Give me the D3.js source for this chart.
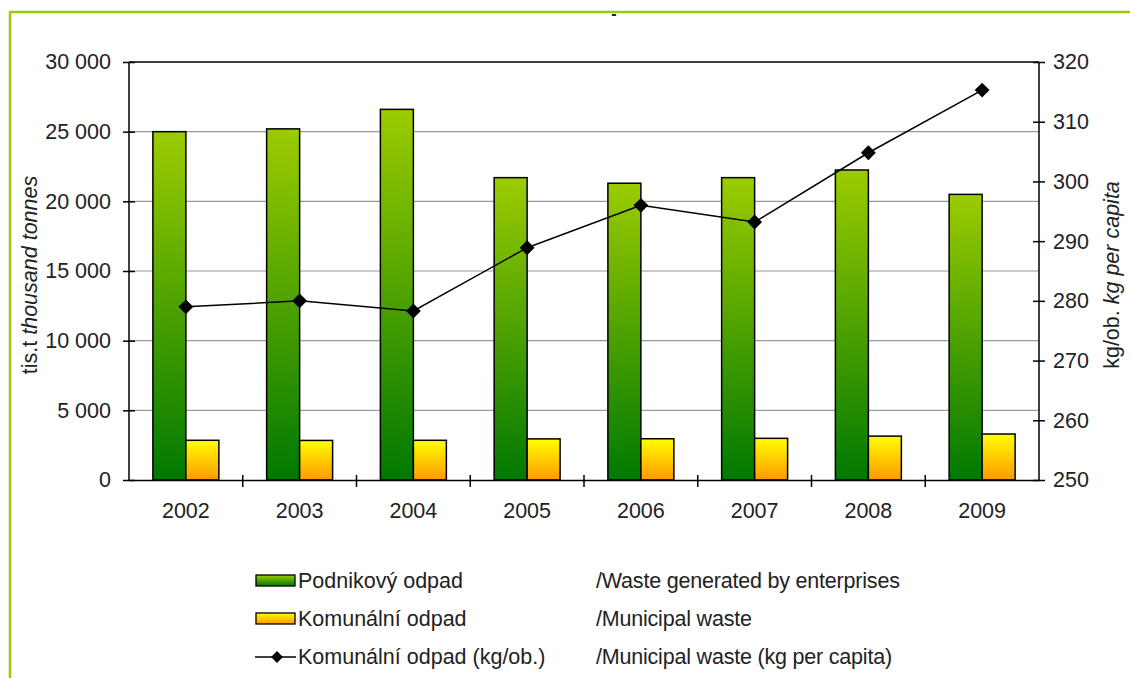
<!DOCTYPE html>
<html>
<head>
<meta charset="utf-8">
<script src="https://cdn.jsdelivr.net/npm/d3@7"></script>
<style>
  body { margin: 0; background: #fff; }
  svg { display: block; font-family: "Liberation Sans", Arial, sans-serif; }
</style>
</head>
<body>
<svg class="canvas" width="1130" height="678"></svg>
<script>
// chart data
const years = ["2002", "2003", "2004", "2005", "2006", "2007", "2008", "2009"];
const enterpriseWaste = [25000, 25200, 26600, 21700, 21300, 21700, 22250, 20500];
const municipalWaste = [2850, 2840, 2850, 2950, 2960, 2990, 3150, 3300];
const municipalPerCapita = [279, 280, 278.3, 288.9, 296, 293.2, 304.8, 315.3];
const leftTicks = [0, 5000, 10000, 15000, 20000, 25000, 30000];
const rightTicks = [250, 260, 270, 280, 290, 300, 310, 320];
const legendCz = ["Podnikový odpad", "Komunální odpad", "Komunální odpad (kg/ob.)"];
const legendEn = ["/Waste generated by enterprises", "/Municipal waste", "/Municipal waste (kg per capita)"];

const FS = 21.5; // font size used everywhere

function render() {
  const svg = d3.select(".canvas");
  const margin = { left: 129, right: 91, top: 62, bottom: 198 };
  const width = 1130, height = 678;
  const innerW = width - margin.left - margin.right;
  const innerH = height - margin.top - margin.bottom;

  const defs = svg.append("defs");
  const gGreen = defs.append("linearGradient").attr("id", "gGreen")
    .attr("x1", 0).attr("y1", 0).attr("x2", 0).attr("y2", 1);
  gGreen.append("stop").attr("offset", "0%").attr("stop-color", "#9ccc00");
  gGreen.append("stop").attr("offset", "100%").attr("stop-color", "#007800");
  const gYellow = defs.append("linearGradient").attr("id", "gYellow")
    .attr("x1", 0).attr("y1", 0).attr("x2", 0).attr("y2", 1);
  gYellow.append("stop").attr("offset", "0%").attr("stop-color", "#ffff00");
  gYellow.append("stop").attr("offset", "100%").attr("stop-color", "#ff9900");

  // outer frame (green border on top and left)
  svg.append("line").attr("x1", 10).attr("x2", width).attr("y1", 12).attr("y2", 12)
    .attr("stroke", "#99cc00").attr("stroke-width", 2.5);
  svg.append("line").attr("x1", 10).attr("x2", 10).attr("y1", 11).attr("y2", height)
    .attr("stroke", "#99cc00").attr("stroke-width", 2.5);
  svg.append("text").attr("x", 614).attr("y", 19).attr("text-anchor", "middle")
    .attr("font-size", 16).attr("font-weight", "bold").attr("fill", "#222").text("-");

  const g = svg.append("g").attr("transform", `translate(${margin.left},${margin.top})`);

  const x0 = d3.scaleBand().domain(years).range([0, innerW])
    .paddingInner(0.42).paddingOuter(0.21);
  const x1 = d3.scaleBand().domain(["ent", "mun"]).range([0, x0.bandwidth()]);
  const yL = d3.scaleLinear().domain([0, 30000]).range([innerH, 0]);
  const yR = d3.scaleLinear().domain([250, 320]).range([innerH, 0]);

  // gridlines
  g.append("g").selectAll("line").data(leftTicks.slice(1, -1)).join("line")
    .attr("x1", 0).attr("x2", innerW)
    .attr("y1", d => yL(d)).attr("y2", d => yL(d))
    .attr("stroke", "#9a9a9a").attr("stroke-width", 1.2);
  g.append("line").attr("x1", 0).attr("x2", innerW).attr("y1", 0).attr("y2", 0)
    .attr("stroke", "#000").attr("stroke-width", 1.5);

  // bars
  const fmt = v => d3.format(",")(v).replace(/,/g, " ");
  const groups = g.append("g").selectAll("g").data(years).join("g")
    .attr("transform", d => `translate(${x0(d)},0)`);
  groups.append("rect")
    .attr("x", x1("ent")).attr("width", x1.bandwidth())
    .attr("y", (d, i) => yL(enterpriseWaste[i]))
    .attr("height", (d, i) => innerH - yL(enterpriseWaste[i]))
    .attr("fill", "url(#gGreen)").attr("stroke", "#000").attr("stroke-width", 1.5);
  groups.append("rect")
    .attr("x", x1("mun")).attr("width", x1.bandwidth())
    .attr("y", (d, i) => yL(municipalWaste[i]))
    .attr("height", (d, i) => innerH - yL(municipalWaste[i]))
    .attr("fill", "url(#gYellow)").attr("stroke", "#000").attr("stroke-width", 1.5);

  // axes
  const axL = g.append("g").call(d3.axisLeft(yL).tickValues(leftTicks).tickFormat(fmt).tickSize(6).tickPadding(12));
  const axR = g.append("g").attr("transform", `translate(${innerW},0)`)
    .call(d3.axisRight(yR).tickValues(rightTicks).tickSize(6).tickPadding(8));
  const axB = g.append("g").attr("transform", `translate(0,${innerH})`)
    .call(d3.axisBottom(x0).tickSize(0).tickPadding(23));
  // category separator ticks
  axB.selectAll(".sep").data(years.slice(1)).join("line").attr("class", "sep")
    .attr("x1", d => x0(d) - x0.step() * x0.paddingInner() / 2)
    .attr("x2", d => x0(d) - x0.step() * x0.paddingInner() / 2)
    .attr("y1", -5).attr("y2", 7).attr("stroke", "#000").attr("stroke-width", 1.5);
  axL.selectAll(".tick line").attr("x1", 6).attr("x2", -6);
  axR.selectAll(".tick line").attr("x1", -6).attr("x2", 6);
  [axL, axR, axB].forEach(a => {
    a.select(".domain").attr("stroke", "#000").attr("stroke-width", 1.5);
    a.selectAll(".tick line").attr("stroke", "#000").attr("stroke-width", 1.5);
    a.selectAll("text").attr("font-size", FS).attr("fill", "#222")
      .attr("font-family", "Liberation Sans, Arial, sans-serif");
  });
  axL.select(".domain").attr("d", `M0,0V${innerH}`);
  axR.select(".domain").attr("d", `M0,0V${innerH}`);

  // line series
  const cx = (d, i) => x0(years[i]) + x0.bandwidth() / 2;
  const line = d3.line().x(cx).y(d => yR(d));
  g.append("path").datum(municipalPerCapita).attr("d", line)
    .attr("fill", "none").attr("stroke", "#000").attr("stroke-width", 1.5);
  const diamond = d3.symbol().type(d3.symbolSquare).size(110);
  g.append("g").selectAll("path").data(municipalPerCapita).join("path")
    .attr("transform", (d, i) => `translate(${cx(d, i)},${yR(d)}) rotate(45)`)
    .attr("d", diamond).attr("fill", "#000");

  // axis titles
  const tL = svg.append("text").attr("transform", `translate(37,${margin.top + innerH / 2 + 4}) rotate(-90)`)
    .attr("text-anchor", "middle").attr("font-size", FS).attr("fill", "#222");
  tL.append("tspan").text("tis.t  ");
  tL.append("tspan").attr("font-style", "italic").text("thousand tonnes");
  const tR = svg.append("text").attr("transform", `translate(1119,${margin.top + innerH / 2 + 4}) rotate(-90)`)
    .attr("text-anchor", "middle").attr("font-size", FS).attr("fill", "#222");
  tR.append("tspan").text("kg/ob.  ");
  tR.append("tspan").attr("font-style", "italic").text("kg per capita");

  // legend
  const leg = svg.append("g");
  const rowY = [581, 619, 657];
  const fills = ["url(#gGreen)", "url(#gYellow)"];
  legendCz.forEach((t, i) => {
    const row = leg.append("g").attr("transform", `translate(0,${rowY[i]})`);
    if (i < 2) {
      row.append("rect").attr("x", 256).attr("y", -6).attr("width", 39).attr("height", 11)
        .attr("fill", fills[i]).attr("stroke", "#000").attr("stroke-width", 1.3);
    } else {
      row.append("line").attr("x1", 255).attr("x2", 296).attr("y1", 0).attr("y2", 0)
        .attr("stroke", "#000").attr("stroke-width", 1.5);
      row.append("path").attr("transform", "translate(277,0) rotate(45)")
        .attr("d", d3.symbol().type(d3.symbolSquare).size(70)).attr("fill", "#000");
    }
    row.append("text").attr("x", 298).attr("y", 7).attr("font-size", FS).attr("fill", "#222").text(t);
    row.append("text").attr("x", 596).attr("y", 7).attr("font-size", FS).attr("fill", "#222")
      .attr("letter-spacing", -0.2).text(legendEn[i]);
  });
}

window.onload = render;
</script>
</body>
</html>
